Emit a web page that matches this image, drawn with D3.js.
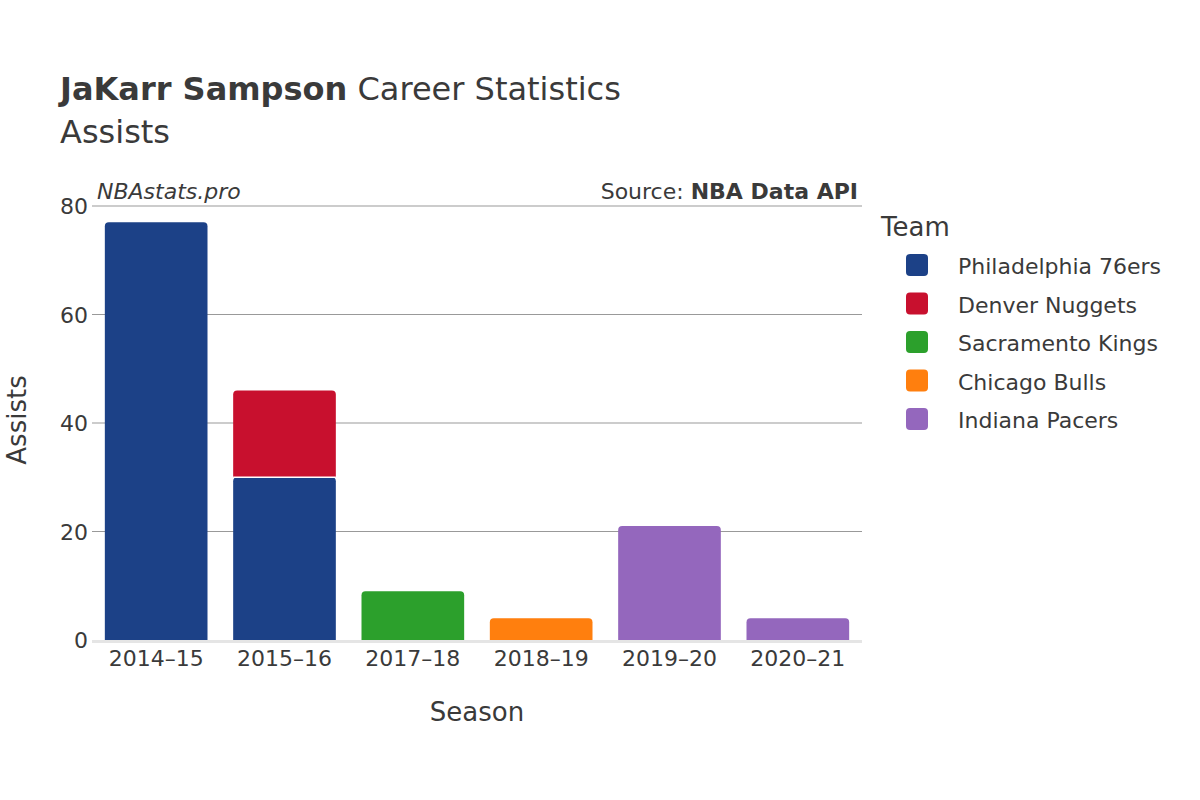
<!DOCTYPE html>
<html><head><meta charset="utf-8">
<script src="https://cdn.jsdelivr.net/npm/d3@7"></script>
<style>body{margin:0;background:#fff}text{font-family:"DejaVu Sans",sans-serif;fill:#3a3a3a}</style>
</head><body><svg id="c" width="1200" height="800"></svg>
<script>
const seasons=["2014–15","2015–16","2017–18","2018–19","2019–20","2020–21"];
const teams=["Philadelphia 76ers","Denver Nuggets","Sacramento Kings","Chicago Bulls","Indiana Pacers"];
const colors=["#1c4187","#c8102e","#2ca02c","#ff7f0e","#9467bd"];
// segments: season, team index, value
const segSeason=["2014–15","2015–16","2015–16","2017–18","2018–19","2019–20","2020–21"];
const segTeam=[0,0,1,2,3,4,4];
const segValue=[77,30,16,9,4,21,4];
const yTicks=[0,20,40,60,80];

const svg=d3.select("#c");
const x=d3.scaleBand().domain(seasons).range([92,862]).paddingInner(0.2).paddingOuter(0.1);
const y=d3.scaleLinear().domain([0,80]).range([640,206]);

svg.append("g").selectAll("line").data(yTicks.filter(d=>d>0)).join("line")
 .attr("x1",92).attr("x2",862).attr("y1",d=>y(d)).attr("y2",d=>y(d)).attr("stroke","#999").attr("stroke-width",1);
svg.append("line").attr("x1",92).attr("x2",862).attr("y1",y(0)+1.5).attr("y2",y(0)+1.5).attr("stroke","#e5e5e5").attr("stroke-width",3);

const base={};
const segs=segValue.map((v,i)=>{const s=segSeason[i];const b=base[s]||0;base[s]=b+v;return {s,t:segTeam[i],b,v};});
function rtop(x0,y0,w,h,r){r=Math.min(r,h,w/2);return `M${x0},${y0+h}V${y0+r}Q${x0},${y0} ${x0+r},${y0}H${x0+w-r}Q${x0+w},${y0} ${x0+w},${y0+r}V${y0+h}Z`;}
svg.append("g").selectAll("path").data(segs).join("path")
 .attr("d",d=>rtop(x(d.s),y(d.b+d.v),x.bandwidth(),y(d.b)-y(d.b+d.v),4))
 .attr("fill",d=>colors[d.t]).attr("stroke","#fff").attr("stroke-width",d=>d.b>0?0:0);
svg.append("g").selectAll("line").data(segs.filter(d=>d.b>0)).join("line")
 .attr("x1",d=>x(d.s)).attr("x2",d=>x(d.s)+x.bandwidth()).attr("y1",d=>y(d.b)).attr("y2",d=>y(d.b)).attr("stroke","#fff").attr("stroke-width",1.5);

svg.append("g").selectAll("text").data(yTicks).join("text")
 .attr("x",88).attr("y",d=>y(d)+8).attr("text-anchor","end").attr("font-size",22).text(d=>d);
svg.append("g").selectAll("text").data(seasons).join("text")
 .attr("x",d=>x(d)+x.bandwidth()/2).attr("y",666).attr("text-anchor","middle").attr("font-size",22).text(d=>d);

const t=svg.append("text").attr("x",60).attr("y",100).attr("font-size",32);
t.append("tspan").attr("font-weight","bold").text("JaKarr Sampson");
t.append("tspan").text(" Career Statistics");
svg.append("text").attr("x",60).attr("y",143).attr("font-size",32).text("Assists");
svg.append("text").attr("x",97).attr("y",199).attr("font-size",22).attr("font-style","italic").text("NBAstats.pro");
const s=svg.append("text").attr("x",858).attr("y",199).attr("font-size",22).attr("text-anchor","end");
s.append("tspan").text("Source: ");s.append("tspan").attr("font-weight","bold").text("NBA Data API");
svg.append("text").attr("transform","translate(26,420) rotate(-90)").attr("text-anchor","middle").attr("font-size",26).text("Assists");
svg.append("text").attr("x",477).attr("y",721).attr("text-anchor","middle").attr("font-size",26).text("Season");

svg.append("text").attr("x",881).attr("y",236).attr("font-size",26).text("Team");
const lg=svg.append("g").selectAll("g").data(teams).join("g").attr("transform",(d,i)=>`translate(0,${265+i*38.5})`);
lg.append("rect").attr("x",906).attr("y",-11).attr("width",22).attr("height",22).attr("rx",4).attr("fill",(d,i)=>colors[i]);
lg.append("text").attr("x",958).attr("y",9).attr("font-size",22).text(d=>d);
</script></body></html>
